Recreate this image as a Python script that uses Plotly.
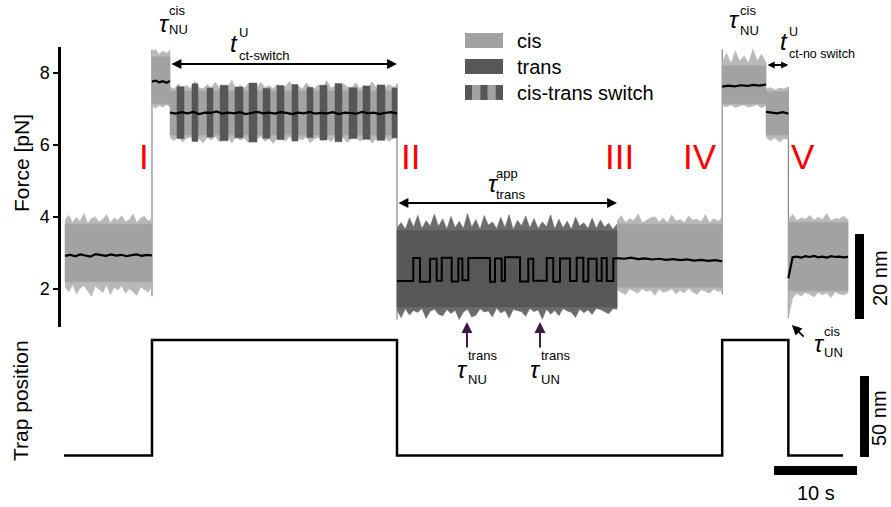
import numpy as np
import plotly.graph_objects as go

# ---------------- data ----------------
# segments of the force trace: name, start (s), end (s), state
seg_names = ["A", "B", "C", "D", "E", "F", "G", "H"]
seg_start = [0.12, 10.60, 12.77, 40.12, 66.63, 79.30, 84.58, 87.27]
seg_end = [10.60, 12.77, 40.12, 66.63, 79.30, 84.58, 87.27, 94.46]
seg_state = ["cis", "cis", "cis", "trans", "cis", "cis", "cis", "cis"]
# dense part of the noise band (pN)
core_top = [3.80, 8.45, 7.50, 3.62, 3.80, 8.20, 7.48, 3.85]
core_bottom = [2.20, 7.15, 6.28, 1.50, 2.05, 7.15, 6.28, 1.95]

# outer noise envelopes (pN)
upper = {
    "A": [3.92, 4.05, 3.85, 3.99, 3.88, 4.10, 3.83, 3.96, 4.01, 3.86, 3.94, 4.07,
          3.84, 3.98, 3.90, 4.04, 3.87, 3.93, 4.08, 3.85, 3.97, 4.02, 3.89, 3.95],
    "B": [8.58, 8.66, 8.52, 8.62, 8.55, 8.64],
    "C": [7.62, 7.55, 7.70, 7.58, 7.66, 7.57, 7.78, 7.60, 7.56, 7.68, 7.59, 7.74,
          7.57, 7.64, 7.61, 7.80, 7.56, 7.67, 7.58, 7.71, 7.62, 7.57, 7.75, 7.60,
          7.65, 7.56, 7.69, 7.59, 7.63, 7.77, 7.58, 7.66, 7.55, 7.72, 7.61, 7.57,
          7.68, 7.60, 7.79, 7.58, 7.64, 7.56, 7.70, 7.62, 7.59, 7.73, 7.57, 7.66,
          7.60, 7.76, 7.58, 7.63, 7.56, 7.69, 7.61, 7.65],
    "D": [3.70, 3.85, 3.66, 3.98, 3.72, 4.05, 3.68, 3.90, 3.75, 4.08, 3.74, 3.95,
          3.67, 4.02, 3.71, 3.88, 3.69, 4.10, 3.72, 3.93, 3.66, 4.04, 3.78, 3.86,
          3.68, 3.99, 3.71, 4.07, 3.65, 3.91, 3.76, 4.03, 3.70, 3.96, 3.68, 3.87,
          3.73, 4.06, 3.67, 3.94, 3.70, 3.89, 3.66, 4.00, 3.75, 3.84, 3.68, 3.97,
          3.69, 3.92, 3.72, 3.83, 3.66, 3.80],
    "E": [3.88, 4.04, 3.85, 3.95, 3.90, 4.09, 3.84, 3.92, 3.98, 4.01, 3.86, 3.97,
          3.83, 4.06, 3.89, 3.93, 3.85, 4.03, 3.91, 3.94, 3.87, 4.07, 3.84, 3.96,
          3.88, 3.98],
    "F": [8.30, 8.55, 8.26, 8.62, 8.33, 8.48, 8.28, 8.66, 8.35, 8.52, 8.29],
    "G": [7.55, 7.60, 7.53, 7.58, 7.56, 7.62],
    "H": [3.92, 4.08, 3.90, 3.98, 3.94, 4.05, 3.91, 3.99, 3.93, 4.10, 3.90, 3.96,
          3.95, 4.02, 3.92],
}
lower = {
    "A": [2.05, 1.92, 2.12, 1.86, 2.02, 2.10, 1.95, 1.80, 2.08, 1.99, 1.90, 2.11,
          1.84, 2.04, 1.97, 2.09, 1.88, 2.01, 1.93, 1.82, 2.06, 1.98, 1.91, 2.07],
    "B": [7.08, 7.02, 7.10, 7.05, 7.12, 7.06],
    "C": [6.20, 6.12, 6.24, 6.08, 6.18, 6.22, 6.10, 6.19, 6.05, 6.21, 6.14, 6.23,
          6.09, 6.17, 6.20, 6.06, 6.22, 6.13, 6.19, 6.07, 6.21, 6.15, 6.24, 6.10,
          6.18, 6.04, 6.20, 6.16, 6.11, 6.23, 6.08, 6.19, 6.14, 6.22, 6.06, 6.17,
          6.21, 6.12, 6.19, 6.09, 6.23, 6.15, 6.20, 6.07, 6.18, 6.22, 6.11, 6.16,
          6.21, 6.05, 6.19, 6.13, 6.23, 6.10, 6.18, 6.20],
    "D": [1.42, 1.20, 1.45, 1.28, 1.40, 1.35, 1.46, 1.18, 1.38, 1.44, 1.30, 1.25,
          1.43, 1.32, 1.41, 1.15, 1.36, 1.44, 1.22, 1.27, 1.45, 1.36, 1.39, 1.22,
          1.47, 1.33, 1.40, 1.19, 1.43, 1.41, 1.37, 1.24, 1.46, 1.37, 1.42, 1.16,
          1.44, 1.30, 1.40, 1.26, 1.46, 1.39, 1.35, 1.21, 1.44, 1.34, 1.42, 1.29,
          1.46, 1.43, 1.38, 1.31, 1.45, 1.44],
    "E": [1.98, 1.90, 1.84, 2.00, 1.95, 1.88, 2.01, 1.93, 1.97, 1.82, 1.99, 1.91,
          1.94, 2.00, 1.86, 1.96, 1.89, 2.02, 1.92, 1.85, 1.98, 1.94, 1.88, 2.00,
          1.93, 1.95],
    "F": [7.10, 7.06, 7.12, 7.04, 7.09, 7.11, 7.05, 7.08, 7.12, 7.03, 7.10],
    "G": [6.22, 6.12, 6.20, 6.08, 6.18, 6.15],
    "H": [1.20, 1.75, 1.88, 1.80, 1.90, 1.85, 1.78, 1.91, 1.84, 1.89, 1.76, 1.92,
          1.86, 1.83, 1.90],
}
# smoothed force (pN)
mean = {
    "A": [2.92, 2.95, 2.91, 2.96, 2.93, 2.90, 2.97, 2.94, 2.92, 2.96, 2.93, 2.95,
          2.91, 2.94, 2.96, 2.92, 2.95, 2.93],
    "B": [7.76, 7.79, 7.74, 7.77, 7.73, 7.78],
    "C": [6.90, 6.87, 6.91, 6.88, 6.92, 6.86, 6.90, 6.89, 6.93, 6.87, 6.90, 6.88,
          6.91, 6.86, 6.89, 6.92, 6.88, 6.90, 6.87, 6.91, 6.89, 6.86, 6.90, 6.88,
          6.92, 6.87, 6.89, 6.88, 6.91, 6.86, 6.90, 6.89, 6.87, 6.92, 6.88, 6.90,
          6.86, 6.89, 6.91, 6.87],
    "E": [2.86, 2.84, 2.87, 2.83, 2.85, 2.82, 2.84, 2.81, 2.83, 2.80, 2.82, 2.79,
          2.81, 2.78, 2.80, 2.77],
    "F": [7.62, 7.65, 7.63, 7.66, 7.64, 7.67, 7.65, 7.68],
    "G": [6.92, 6.90, 6.88, 6.91, 6.87],
    "H": [2.30, 2.88, 2.90, 2.87, 2.91, 2.89, 2.92, 2.88, 2.90, 2.87, 2.91, 2.89,
          2.90, 2.88, 2.89],
}

# trans periods inside the cis-trans switching segment (s, pN)
stripe_start = [13.61, 15.42, 17.23, 18.80, 20.60, 22.29, 23.98, 25.66,
                27.47, 29.28, 30.84, 32.65, 34.34, 36.02, 37.71, 39.52]
stripe_end = [14.46, 16.14, 17.95, 19.76, 21.57, 23.25, 24.82, 26.51,
              28.19, 30.00, 31.69, 33.49, 35.30, 36.87, 38.67, 40.12]
stripe_top = [7.62, 7.70, 7.58, 7.66, 7.61, 7.72, 7.57, 7.65,
              7.68, 7.60, 7.66, 7.71, 7.59, 7.64, 7.67, 7.58]
stripe_bottom = [6.18, 6.10, 6.22, 6.12, 6.20, 6.08, 6.19, 6.15,
                 6.11, 6.21, 6.14, 6.09, 6.18, 6.16, 6.13, 6.20]

# trans-state hopping: dwell start times (s) and force levels (pN)
dwell_t = [40.12, 42.08, 42.89, 44.10, 44.90, 45.51, 46.71, 47.51, 48.00, 48.71,
           51.33, 51.93, 52.73, 53.13, 54.94, 55.94, 56.54, 58.16, 58.95, 59.76,
           60.96, 61.77, 62.57, 63.17, 64.18, 64.78, 65.39, 66.18]
dwell_F = [2.22, 2.86, 2.20, 2.84, 2.23, 2.87, 2.21, 2.85, 2.24, 2.86,
           2.20, 2.85, 2.22, 2.88, 2.21, 2.84, 2.23, 2.86, 2.20, 2.85,
           2.22, 2.87, 2.21, 2.84, 2.23, 2.86, 2.22, 2.85]

# abrupt force jumps when the trap moves / the protein unfolds
jump_t = [10.60, 40.12, 79.30, 87.27]
jump_lo = [1.80, 1.15, 1.85, 1.19]
jump_hi = [8.65, 7.70, 8.66, 7.60]

# trap position (step protocol)
trap_edges = [0.0, 10.60, 40.12, 79.30, 87.27, 93.86]
trap_level = [0, 1, 0, 1, 0]

# scale bar length (s)
time_bar_s = 10

# ---------------- styling ----------------
W, H = 891, 507
COLORS = {"cis": ("#a2a2a2", "#b9b9b9"), "trans": ("#575757", "#6c6c6c")}
PURPLE = "#3d1b42"
JUMP = "#6f6f6f"
FONT = "Liberation Sans, Arial, Helvetica, sans-serif"

PX_PER_S = 8.3
T0_PX = 64.0
X_RANGE = [-T0_PX / PX_PER_S, (W - T0_PX) / PX_PER_S]
Y2_TOP_DOMAIN = 0.34


def F_of_px(y):
    return 2 + (289 - y) / 36.0


def px(x):
    return x / W


def py(y):
    return 1 - y / H


def rects(t0s, t1s, bots, tops):
    """Closed rectangle outlines separated by gaps, for fill='toself'."""
    xs, ys = [], []
    for a, b, lo, hi in zip(t0s, t1s, bots, tops):
        xs += [a, b, b, a, a, None]
        ys += [lo, lo, hi, hi, lo, None]
    return xs, ys


fig = go.Figure()

# jump lines behind the bands
jx, jy = [], []
for t, lo, hi in zip(jump_t, jump_lo, jump_hi):
    jx += [t, t, None]
    jy += [lo, hi, None]
fig.add_trace(go.Scatter(x=jx, y=jy, mode="lines", line=dict(color=JUMP, width=1)))

# outer (spiky) envelopes
for name, t0, t1, state in zip(seg_names, seg_start, seg_end, seg_state):
    up, lo = upper[name], lower[name]
    t = np.linspace(t0, t1, len(up))
    fringe = COLORS[state][1]
    fig.add_trace(go.Scatter(x=list(t) + list(t[::-1]), y=list(up) + list(lo[::-1]),
                             fill="toself", fillcolor=fringe, mode="lines",
                             line=dict(color=fringe, width=0.5), hoverinfo="skip"))

# dense cores
for state in ["cis", "trans"]:
    idx = [i for i, s in enumerate(seg_state) if s == state]
    xs, ys = rects([seg_start[i] for i in idx], [seg_end[i] for i in idx],
                   [core_bottom[i] for i in idx], [core_top[i] for i in idx])
    c = COLORS[state][0]
    fig.add_trace(go.Scatter(x=xs, y=ys, fill="toself", fillcolor=c, mode="lines",
                             line=dict(color=c, width=0.5), hoverinfo="skip"))

# trans stripes in the switching segment
xs, ys = rects(stripe_start, stripe_end, stripe_bottom, stripe_top)
c = COLORS["trans"][0]
fig.add_trace(go.Scatter(x=xs, y=ys, fill="toself", fillcolor=c, mode="lines",
                         line=dict(color=c, width=0.5), hoverinfo="skip"))

# smoothed force
for name, t0, t1 in zip(seg_names, seg_start, seg_end):
    if name not in mean:
        continue
    vals = mean[name]
    fig.add_trace(go.Scatter(x=np.linspace(t0, t1, len(vals)), y=vals, mode="lines",
                             line=dict(color="black", width=2.2), hoverinfo="skip"))
fig.add_trace(go.Scatter(x=dwell_t + [seg_end[3]], y=dwell_F + [dwell_F[-1]],
                         mode="lines", line=dict(color="black", width=2, shape="hv")))

# trap position
fig.add_trace(go.Scatter(x=trap_edges, y=trap_level + [trap_level[-1]], yaxis="y2",
                         mode="lines", line=dict(color="black", width=2.5, shape="hv")))

# scale bars
tb0 = (774 - T0_PX) / PX_PER_S
fig.add_trace(go.Scatter(x=[tb0, tb0 + time_bar_s], y=[-0.13, -0.13], yaxis="y2",
                         mode="lines", line=dict(color="black", width=9)))
xb20 = (859.5 - T0_PX) / PX_PER_S
fig.add_trace(go.Scatter(x=[xb20, xb20], y=[F_of_px(319), F_of_px(234)],
                         mode="lines", line=dict(color="black", width=9)))
xb50 = (864.5 - T0_PX) / PX_PER_S
fig.add_trace(go.Scatter(x=[xb50, xb50], y=[-0.013, 0.688], yaxis="y2",
                         mode="lines", line=dict(color="black", width=9)))

# ---------------- text ----------------


def text(s, x, baseline, size, color="black", anchor="left", angle=0):
    fig.add_annotation(text=s, x=px(x), y=py(baseline - 0.35 * size), xref="paper",
                       yref="paper", xanchor=anchor, yanchor="middle", showarrow=False,
                       textangle=angle, font=dict(family=FONT, size=size, color=color))


def centered(s, x, y, size, color="black", angle=0):
    fig.add_annotation(text=s, x=px(x), y=py(y), xref="paper", yref="paper",
                       xanchor="center", yanchor="middle", showarrow=False,
                       textangle=angle, font=dict(family=FONT, size=size, color=color))


def symbol(main, sup, sub, x, base_main, dx, base_sup, base_sub, size=13):
    text("<i>%s</i>" % main, x, base_main, 24)
    text(sup, x + dx, base_sup, size)
    text(sub, x + dx, base_sub, size)


def harrow(t0, t1, F, size=1.1):
    fig.add_annotation(x=t1, y=F, ax=t0, ay=F, xref="x", yref="y", axref="x", ayref="y",
                       text="", showarrow=True, arrowhead=2, arrowsize=size,
                       arrowwidth=1.8, arrowside="end+start", arrowcolor="black",
                       standoff=0, startstandoff=0)


def arrow(t_tail, F_tail, t_head, F_head, color, width):
    fig.add_annotation(x=t_head, y=F_head, ax=t_tail, ay=F_tail, xref="x", yref="y",
                       axref="x", ayref="y", text="", showarrow=True, arrowhead=2,
                       arrowsize=1.1, arrowwidth=width, arrowcolor=color, standoff=0)


# interval arrows
harrow(seg_start[1], seg_end[1], F_of_px(45), size=0.9)
harrow(seg_start[2], seg_end[2], F_of_px(64))
harrow(seg_start[3], seg_end[3], F_of_px(203))
harrow(seg_start[5], seg_end[5], F_of_px(46))
harrow(seg_start[6], seg_end[6], F_of_px(65), size=0.8)

# dwell markers in the trans segment
for tx in [48.55, 57.35]:
    arrow(tx, F_of_px(349), tx, F_of_px(322), PURPLE, 2)
arrow(89.3, F_of_px(338), 87.7, F_of_px(325), "black", 1.8)

symbol("τ", "cis", "NU", 157, 32, 10, 15, 34)
symbol("t", "U", "ct-switch", 228, 52, 9, 37, 60)
symbol("τ", "app", "trans", 486, 192, 8, 178, 199)
symbol("τ", "cis", "NU", 727, 28, 11, 15, 35)
symbol("t", "U", "ct-no switch", 778, 50, 9, 36, 58, size=12.5)
symbol("τ", "trans", "NU", 455, 378, 11, 360, 384)
symbol("τ", "trans", "UN", 528, 378, 11, 360, 384)
symbol("τ", "cis", "UN", 812, 352, 10, 336, 357)

# phase numerals
for s, cx in [("I", 144), ("II", 410), ("III", 619), ("IV", 700), ("V", 803)]:
    text(s, cx, 169, 35, color="red", anchor="center")

# legend
CIS, TRANS = COLORS["cis"][0], COLORS["trans"][0]
fig.add_shape(type="rect", xref="paper", yref="paper", x0=px(465), x1=px(503),
              y0=py(48), y1=py(33), fillcolor=CIS, line=dict(width=0))
fig.add_shape(type="rect", xref="paper", yref="paper", x0=px(465), x1=px(503),
              y0=py(74), y1=py(59), fillcolor=TRANS, line=dict(width=0))
sw = (503 - 465) / 5
for i in range(5):
    fig.add_shape(type="rect", xref="paper", yref="paper", x0=px(465 + i * sw),
                  x1=px(465 + (i + 1) * sw), y0=py(100), y1=py(85),
                  fillcolor=TRANS if i % 2 == 0 else CIS, line=dict(width=0))
for label, top in [("cis", 33), ("trans", 59), ("cis-trans switch", 85)]:
    text(label, 515, top + 15, 20)

# axis titles and scale labels
centered("Force [pN]", 21, 163, 21, angle=-90)
centered("Trap position", 20, 401, 21, angle=-90)
centered("20 nm", 880, 278, 20, angle=-90)
centered("50 nm", 879, 418, 20, angle=-90)
centered("10 s", 816, 493, 20)

y2_px_top = H * (1 - Y2_TOP_DOMAIN)
fig.update_layout(
    width=W, height=H, margin=dict(l=0, r=0, t=0, b=0),
    paper_bgcolor="white", plot_bgcolor="white", showlegend=False,
    font=dict(family=FONT, color="black"),
    xaxis=dict(domain=[0, 1], range=X_RANGE, visible=False),
    yaxis=dict(domain=[(H - 327) / H, (H - 47) / H],
               range=[F_of_px(327), F_of_px(47)],
               anchor="free", position=59 / W, showline=True, linecolor="black",
               linewidth=2.5, ticks="outside", ticklen=5, tickwidth=2, tickcolor="black",
               tickvals=[2, 4, 6, 8], tickfont=dict(size=18, family=FONT),
               showgrid=False, zeroline=False),
    yaxis2=dict(domain=[0, Y2_TOP_DOMAIN],
                range=[-(H - 455.5) / 115.5, 1 + (340 - y2_px_top) / 115.5],
                anchor="x", visible=False),
)

fig.write_html("out.html")
